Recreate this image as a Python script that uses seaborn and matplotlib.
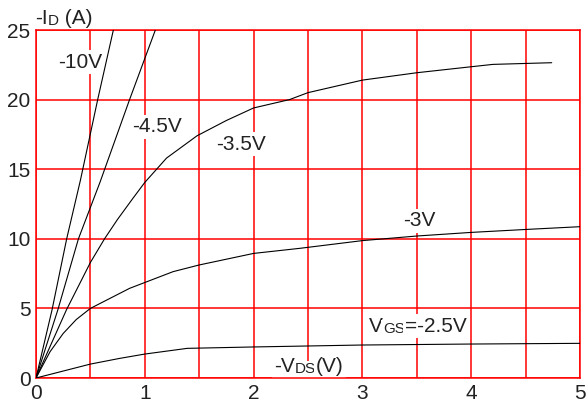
import numpy as np
import pandas as pd
import seaborn as sns
import matplotlib
matplotlib.use("Agg")
from matplotlib import pyplot as plt

# -VDS (V) vs -ID (A) curves
vds_10 = [0, 0.147, 0.282, 0.408, 0.567, 0.711]
id_10 = [0, 4.88, 10.0, 14.2, 20.0, 25.0]

vds_45 = [0, 0.2, 0.39, 0.59, 0.86, 1.097]
id_45 = [0, 4.88, 10.0, 14.1, 20.0, 25.0]

vds_35 = [0, 0.28, 0.5, 0.63, 0.75, 0.89, 1.0, 1.2, 1.48, 1.75, 2.0,
          2.33, 2.5, 3.0, 3.5, 4.0, 4.2, 4.74]
id_35 = [0, 4.9, 8.3, 10.0, 11.4, 12.9, 14.05, 15.8, 17.4, 18.5, 19.4,
         20.0, 20.5, 21.4, 21.93, 22.36, 22.53, 22.65]

vds_3 = [0, 0.13, 0.25, 0.37, 0.5, 0.86, 1.1, 1.26, 1.5, 2.0, 2.43, 3.0,
         3.5, 4.0, 4.5, 5.0]
id_3 = [0, 1.9, 3.2, 4.2, 5.0, 6.44, 7.16, 7.64, 8.12, 8.95, 9.32, 9.87,
        10.2, 10.46, 10.67, 10.87]

vds_25 = [0, 0.5, 0.77, 1.0, 1.39, 2.0, 3.0, 4.0, 5.0]
id_25 = [0, 1.0, 1.41, 1.72, 2.13, 2.23, 2.37, 2.44, 2.49]

xticks = [0, 1, 2, 3, 4, 5]
yticks = [0, 5, 10, 15, 20, 25]

curves = {"-10V": (vds_10, id_10), "-4.5V": (vds_45, id_45),
          "-3.5V": (vds_35, id_35), "-3V": (vds_3, id_3),
          "-2.5V": (vds_25, id_25)}

sns.set_theme(style="white")
plt.rcParams['font.family'] = ['Liberation Sans', 'DejaVu Sans']

fig = plt.figure(figsize=(5.87, 4.09), dpi=100)
ax = fig.add_axes([36 / 587, 31 / 409, 544 / 587, 348 / 409])

for name, (xs, ys) in curves.items():
    df = pd.DataFrame({"vds": xs, "id": ys})
    sns.lineplot(data=df, x="vds", y="id", color="black", lw=0.8, ax=ax,
                 zorder=3)

ax.set_xlim(0, 5)
ax.set_ylim(0, 25)
ax.set_xticks(xticks)
ax.set_yticks(yticks)
ax.set_xticks(np.arange(0, 5.01, 0.5), minor=True)
ax.grid(which="both", axis="x", color="red", lw=1.1)
ax.grid(which="major", axis="y", color="red", lw=1.1)
ax.set_axisbelow(True)
for s in ax.spines.values():
    s.set_color("red")
    s.set_linewidth(1.1)
ax.set_xlabel("")
ax.set_ylabel("")
ax.tick_params(axis="both", which="both", length=0, labelsize=15,
               labelcolor="#222222")
ax.tick_params(axis="x", pad=4)
ax.tick_params(axis="y", pad=4)

box = dict(boxstyle="square,pad=0.12", fc="white", ec="none")


def rich_label(x, y, pieces, big=15, small=11, bg=True):
    # chain text pieces so the small "subscripts" sit on the baseline
    prev = None
    for txt, is_small in pieces:
        size = small if is_small else big
        kw = dict(fontsize=size, color="#222222", zorder=2)
        if bg:
            kw["bbox"] = box
        if prev is None:
            prev = ax.text(x, y, txt, ha="left", va="center",
                           clip_on=False, **kw)
        else:
            prev = ax.annotate(txt, xy=(1, 0), xycoords=prev,
                               ha="left", va="bottom",
                               annotation_clip=False, **kw)
    return prev


rich_label(0.205, 22.7, [("-10V", False)])
rich_label(0.88, 18.05, [("-4.5V", False)])
rich_label(1.654, 16.8, [("-3.5V", False)])
rich_label(3.37, 11.3, [("-3V", False)])
rich_label(3.064, 3.7, [("V", False), ("GS", True), ("=-2.5V", False)])
rich_label(2.19, 0.8, [("-V", False), ("DS", True), ("(V)", False)])
rich_label(-0.01, 25.85, [("-I", False), ("D", True), (" (A)", False)],
           bg=False)

fig.savefig("out.png", dpi=100)
